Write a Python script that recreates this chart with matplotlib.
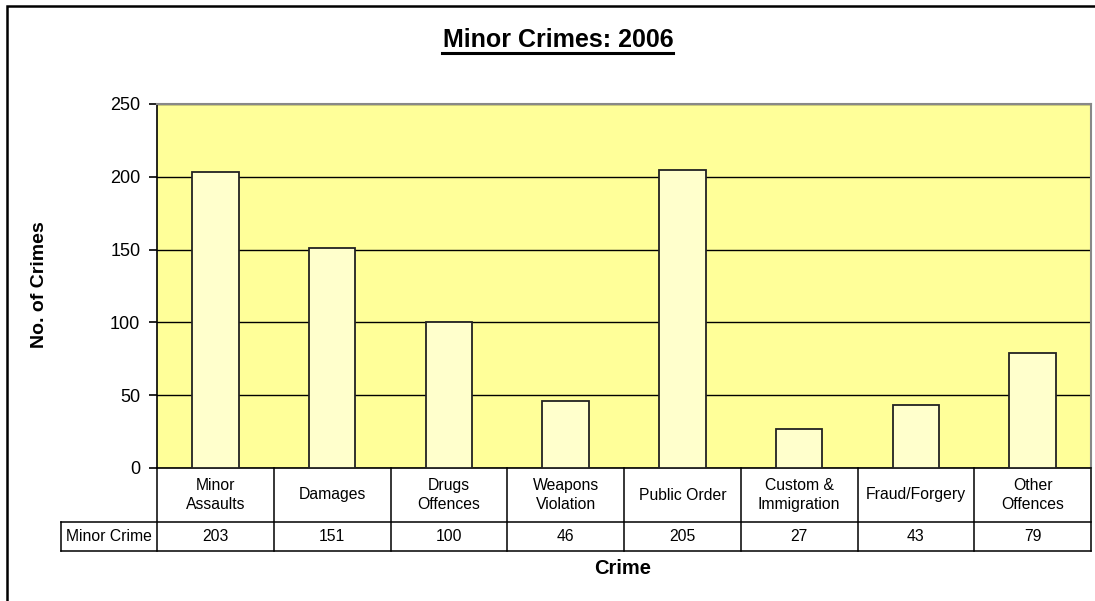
import matplotlib
matplotlib.use("Agg")
import matplotlib.pyplot as plt
from matplotlib.patches import Rectangle
from matplotlib.lines import Line2D

plt.rcParams['font.family'] = ['Liberation Sans', 'DejaVu Sans']

# data
categories = ['Minor\nAssaults', 'Damages', 'Drugs\nOffences', 'Weapons\nViolation',
              'Public Order', 'Custom &\nImmigration', 'Fraud/Forgery', 'Other\nOffences']
values = [203, 151, 100, 46, 205, 27, 43, 79]
series_name = 'Minor Crime'
yticks = [0, 50, 100, 150, 200, 250]

W, H = 1095, 601
fig = plt.figure(figsize=(W / 100, H / 100), dpi=100)
fig.patch.set_facecolor('white')

# plot area in pixels
left, right, top, bottom = 157, 1091, 104, 468
ax = fig.add_axes([left / W, 1 - bottom / H, (right - left) / W, (bottom - top) / H])
ax.set_facecolor('#FFFF99')

x = list(range(len(values)))
ax.bar(x, values, width=0.40, color='#FFFFCC', edgecolor='#222222', linewidth=1.3, zorder=3)

ax.set_xlim(-0.5, len(values) - 0.5)
ax.set_ylim(0, 250)
ax.set_yticks(yticks)
ax.set_yticklabels([str(t) for t in yticks], fontsize=13)
ax.tick_params(axis='y', direction='out', length=6, width=1.2, pad=6)
ax.set_xticks([])
ax.yaxis.grid(True, color='black', linewidth=1.0, zorder=1)
ax.set_axisbelow(True)

for s in ['top', 'right']:
    ax.spines[s].set_color('#888888')
    ax.spines[s].set_linewidth(1.5)
for s in ['left', 'bottom']:
    ax.spines[s].set_color('black')
    ax.spines[s].set_linewidth(1.2)

# data table under the axis
tr = ax.get_xaxis_transform()
ph = bottom - top
y_head = -54 / ph      # bottom of header row
y_val = -83 / ph       # bottom of value row
x_lab = (61 - left) / ((right - left) / len(values)) - 0.5  # left of row label cell
n = len(values)
lw = 1.1

def hline(x0, x1, y):
    ax.add_line(Line2D([x0, x1], [y, y], transform=tr, color='black', lw=lw, clip_on=False))

def vline(xx, y0, y1):
    ax.add_line(Line2D([xx, xx], [y0, y1], transform=tr, color='black', lw=lw, clip_on=False))

hline(x_lab, n - 0.5, y_head)
hline(x_lab, n - 0.5, y_val)
vline(x_lab, y_head, y_val)
for i in range(n + 1):
    vline(i - 0.5, 0, y_val)

for i, (c, v) in enumerate(zip(categories, values)):
    ax.text(i, y_head / 2, c, transform=tr, ha='center', va='center', fontsize=11.3,
            linespacing=1.35)
    ax.text(i, (y_head + y_val) / 2, str(v), transform=tr, ha='center', va='center', fontsize=11.3)
ax.text((x_lab - 0.5) / 2, (y_head + y_val) / 2, series_name, transform=tr,
        ha='center', va='center', fontsize=11.3)

# titles
fig.text(558 / W, 1 - 40 / H, 'Minor Crimes: 2006', ha='center', va='center',
         fontsize=18, fontweight='bold')
fig.add_artist(Line2D([442 / W, 673 / W], [1 - 53 / H, 1 - 53 / H], color='black',
                      lw=2.2, transform=fig.transFigure))
fig.text(39 / W, 1 - 285 / H, 'No. of Crimes', rotation=90, ha='center', va='center',
         fontsize=14, fontweight='bold')
fig.text(623 / W, 1 - 569 / H, 'Crime', ha='center', va='center',
         fontsize=14.5, fontweight='bold')

# chart border
fig.add_artist(Rectangle((7 / W, -0.1), 1.2, 1 - 6 / H + 0.1, transform=fig.transFigure,
                         fill=False, edgecolor='black', linewidth=1.8, clip_on=False))

fig.savefig('out.png', dpi=100)
